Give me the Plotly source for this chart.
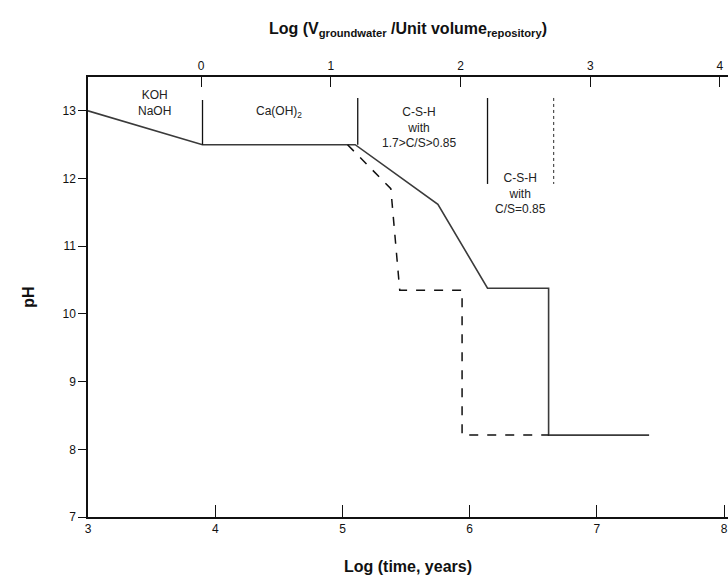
import plotly.graph_objects as go

# pH evolution of cement porewater versus log time (solid: reference case, dashed: faster flow)
solid_x = [3.0, 3.9, 5.1, 5.75, 6.14, 6.62, 6.62, 7.41]
solid_y = [13.0, 12.5, 12.5, 11.62, 10.38, 10.38, 8.21, 8.21]

dashed_x = [5.04, 5.38, 5.45, 5.94, 5.94, 6.62]
dashed_y = [12.5, 11.85, 10.35, 10.35, 8.21, 8.21]

# stage boundaries (x position, pH top, pH bottom, style)
divider_x = [3.9, 5.12, 6.14, 6.66]
divider_top = [13.16, 13.19, 13.19, 13.19]
divider_bot = [12.5, 12.5, 11.92, 11.92]
divider_dash = ["solid", "solid", "solid", "dot"]

# stage labels
stage_text = ["KOH<br>NaOH", "Ca(OH)<sub>2</sub>", "C-S-H<br>with<br>1.7>C/S>0.85", "C-S-H<br>with<br>C/S=0.85"]
stage_x = [3.52, 4.5, 5.6, 6.4]
stage_y = [13.37, 13.13, 13.12, 12.14]

bottom_ticks = [3, 4, 5, 6, 7, 8]
top_ticks = [0, 1, 2, 3, 4]
y_ticks = [7, 8, 9, 10, 11, 12, 13]

FONT = "Liberation Sans Narrow, Liberation Sans, Arial"

fig = go.Figure()
fig.add_trace(go.Scatter(x=solid_x, y=solid_y, mode="lines",
                         line=dict(color="#3a3a3a", width=1.6), showlegend=False))
fig.add_trace(go.Scatter(x=dashed_x, y=dashed_y, mode="lines",
                         line=dict(color="#111111", width=1.5, dash="dash"), showlegend=False))

for xv, yt, yb, ds in zip(divider_x, divider_top, divider_bot, divider_dash):
    fig.add_trace(go.Scatter(x=[xv, xv], y=[yt, yb], mode="lines",
                             line=dict(color="#111111", width=1.3 if ds == "solid" else 0.9, dash=ds),
                             showlegend=False))

# invisible trace to activate the top axis
fig.add_trace(go.Scatter(x=[0], y=[7], xaxis="x2", mode="markers",
                         marker=dict(opacity=0), showlegend=False, hoverinfo="skip"))

for t, xv, yv in zip(stage_text, stage_x, stage_y):
    fig.add_annotation(x=xv, y=yv, text=t, showarrow=False, xanchor="center", yanchor="top",
                       font=dict(family="Liberation Sans, Arial", size=12, color="#222"),
                       align="center")

fig.add_annotation(x=0.5, xref="paper", y=1.0, yref="paper", yshift=36,
                   text="<b>Log (V<sub>groundwater</sub> /Unit volume<sub>repository</sub>)</b>",
                   showarrow=False, xanchor="center", yanchor="bottom",
                   font=dict(family=FONT, size=16, color="#111"))

fig.update_layout(
    width=728, height=579,
    margin=dict(l=88, r=0, t=77, b=62),
    paper_bgcolor="white", plot_bgcolor="white",
    font=dict(family=FONT, size=12, color="#111"),
    xaxis=dict(range=[3, 8.03], tickvals=bottom_ticks, ticks="inside", ticklen=12,
               tickwidth=1.3, tickcolor="#111", showline=True, linecolor="#111", linewidth=1.5,
               showgrid=False, zeroline=False, tickfont=dict(size=12),
               title=dict(text="<b>Log (time, years)</b>", font=dict(size=16), standoff=26)),
    xaxis2=dict(range=[-0.871, 4.062], overlaying="x", side="top", tickvals=top_ticks,
                ticks="inside", ticklen=10, tickwidth=1.3, tickcolor="#111", showline=True,
                linecolor="#111", linewidth=1.5, showgrid=False, zeroline=False,
                tickfont=dict(size=12)),
    yaxis=dict(range=[7, 13.5], tickvals=y_ticks, ticks="outside", ticklen=8, tickwidth=1.3,
               tickcolor="#111", showline=True, linecolor="#111", linewidth=1.5,
               showgrid=False, zeroline=False, tickfont=dict(size=12),
               title=dict(text="<b>pH</b>", font=dict(size=16), standoff=24)),
)

fig.write_html("out.html")
